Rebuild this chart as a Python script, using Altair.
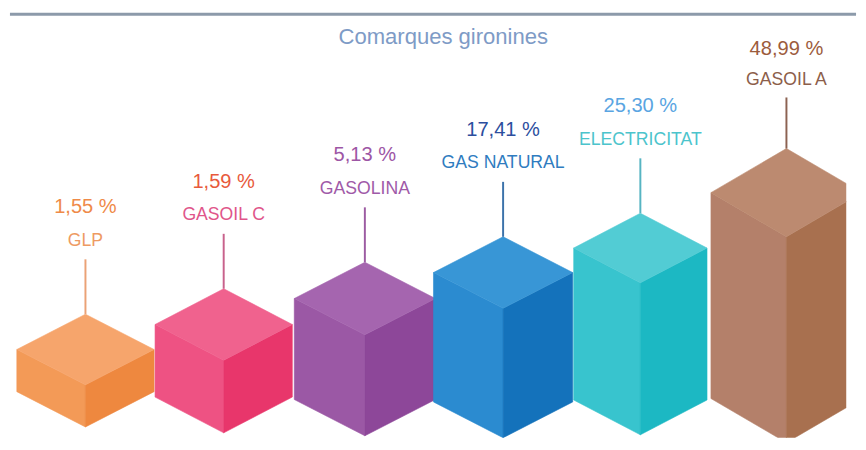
import altair as alt
import pandas as pd

# ---- data ----
categories = ["GLP", "GASOIL C", "GASOLINA", "GAS NATURAL", "ELECTRICITAT", "GASOIL A"]
values = [1.55, 1.59, 5.13, 17.41, 25.30, 48.99]
value_labels = ["1,55 %", "1,59 %", "5,13 %", "17,41 %", "25,30 %", "48,99 %"]
block_heights = [43, 74, 103, 132, 155, 210]   # visual staircase height of each block
title_text = "Comarques gironines"

# ---- layout / style (not data) ----
centers = [82, 223, 367, 508, 648, 797]
half_w = [70, 70, 72, 71, 68, 77]
drop = [36, 36.5, 37, 36.5, 35.5, 45]
ground = [431, 437, 440, 442, 439, 447]
top_col = ["#F6A56C", "#F0628E", "#A565AF", "#3896D6", "#52CCD4", "#BC8A70"]
left_col = ["#F39A57", "#EE5283", "#9B58A5", "#2B8BD0", "#38C4CE", "#B4806A"]
right_col = ["#EE883F", "#E8366B", "#8D4799", "#1472BB", "#1CB8C3", "#A8704F"]
line_col = ["#EBA276", "#C8628C", "#9C5CA2", "#3C72AA", "#56B4C2", "#8C6252"]
pct_col = ["#EF8A48", "#E85A3C", "#9D56A5", "#2C4E9E", "#5AA5E2", "#9C5C3C"]
name_col = ["#EE9A62", "#E0558A", "#A05AA8", "#2F7CC0", "#4CC4CC", "#8C5E4A"]

faces = []
texts = []
rules = []
for i, cat in enumerate(categories):
    cx, w, d, h = centers[i], half_w[i], drop[i], block_heights[i]
    T = ground[i] - 2 * d - h
    fid = f"{i}"
    # left face
    faces += [
        {"face": fid + "a", "x": cx - w, "y": T + d, "y2": T + d + h, "col": left_col[i]},
        {"face": fid + "a", "x": cx, "y": T + 2 * d, "y2": T + 2 * d + h, "col": left_col[i]},
    ]
    # right face
    faces += [
        {"face": fid + "b", "x": cx, "y": T + 2 * d, "y2": T + 2 * d + h, "col": right_col[i]},
        {"face": fid + "b", "x": cx + w, "y": T + d, "y2": T + d + h, "col": right_col[i]},
    ]
    # top face
    faces += [
        {"face": fid + "c", "x": cx - w, "y": T + d, "y2": T + d, "col": top_col[i]},
        {"face": fid + "c", "x": cx, "y": T, "y2": T + 2 * d, "col": top_col[i]},
        {"face": fid + "c", "x": cx + w, "y": T + d, "y2": T + d, "col": top_col[i]},
    ]
    off = 0.93 if i == 5 else 1.0
    rules.append({"x": cx, "y": T, "y2": T - 56 * off, "col": line_col[i]})
    texts.append({"x": cx, "y": T - 75 * off, "t": cat, "col": name_col[i], "kind": "name"})
    texts.append({"x": cx, "y": T - 109 * off, "t": value_labels[i], "col": pct_col[i], "kind": "pct"})

faces_df = pd.DataFrame(faces)
rules_df = pd.DataFrame(rules)
texts_df = pd.DataFrame(texts)

xs = alt.Scale(domain=[8, 858])
ys = alt.Scale(domain=[8, 442], reverse=True)

blocks = alt.Chart(faces_df).mark_area(clip=True, strokeWidth=0.6).encode(
    x=alt.X("x:Q", scale=xs, axis=None),
    y=alt.Y("y:Q", scale=ys, axis=None, stack=None),
    y2="y2:Q",
    color=alt.Color("col:N", scale=None),
    stroke=alt.Stroke("col:N", scale=None),
    detail="face:N",
)

leaders = alt.Chart(rules_df).mark_rule(strokeWidth=2).encode(
    x=alt.X("x:Q", scale=xs, axis=None),
    y=alt.Y("y:Q", scale=ys, axis=None),
    y2="y2:Q",
    color=alt.Color("col:N", scale=None),
)

names = alt.Chart(texts_df[texts_df.kind == "name"]).mark_text(
    font="Liberation Sans", fontSize=18, baseline="middle", align="center"
).encode(
    x=alt.X("x:Q", scale=xs, axis=None),
    y=alt.Y("y:Q", scale=ys, axis=None),
    text="t:N",
    color=alt.Color("col:N", scale=None),
)

pcts = alt.Chart(texts_df[texts_df.kind == "pct"]).mark_text(
    font="Liberation Sans", fontSize=20.5, baseline="middle", align="center"
).encode(
    x=alt.X("x:Q", scale=xs, axis=None),
    y=alt.Y("y:Q", scale=ys, axis=None),
    text="t:N",
    color=alt.Color("col:N", scale=None),
)

title = alt.Chart(pd.DataFrame({"t": [title_text]})).mark_text(
    font="Liberation Sans", fontSize=22.5, baseline="middle", align="center", color="#7E9BC6"
).encode(
    x=alt.value(439),
    y=alt.value(25),
    text="t:N",
)

top_rule = alt.Chart(pd.DataFrame({"t": [title_text]})).mark_rule(
    color="#8C9AAA", strokeWidth=3
).encode(x=alt.value(-3), x2=alt.value(860), y=alt.value(2))

chart = alt.layer(top_rule, blocks, leaders, names, pcts, title).properties(
    width=850, height=434, padding=0, background="white"
).configure_view(stroke=None)

chart.save("out.html", embed_options={"renderer": "svg", "actions": False})
